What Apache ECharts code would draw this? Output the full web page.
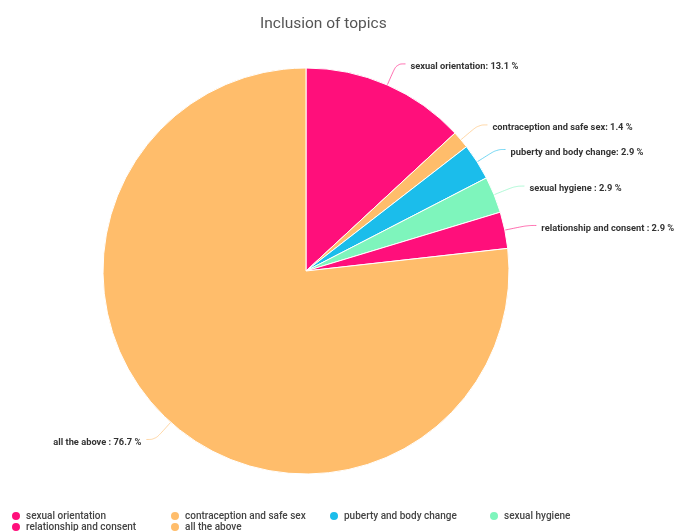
<!DOCTYPE html>
<html>
<head>
<meta charset="utf-8">
<script src="https://cdn.jsdelivr.net/npm/echarts@6/dist/echarts.min.js"></script>
<style>
  html, body { margin: 0; padding: 0; background: #fff; }
  #chart { width: 678px; height: 531px; }
</style>
</head>
<body>
<div id="chart"></div>
<script>
// Topic names as they appear in the survey (some carry a trailing space)
var categories = [
  'sexual orientation',
  'contraception and safe sex',
  'puberty and body change',
  'sexual hygiene ',
  'relationship and consent ',
  'all the above '
];
// Share of respondents, in percent
var shares = [13.1, 1.4, 2.9, 2.9, 2.9, 76.7];
var sliceColors = ['#ff0f7b', '#ffbd6b', '#1bbdeb', '#7ef5bc', '#ff0f7b', '#ffbd6b'];

// Legend grid: four columns, entries fill rows left to right
var legendColumnLeft = [10, 169, 328, 488];
var legendRowTop = [510, 521];

var chart = echarts.init(document.getElementById('chart'));

var pieData = categories.map(function (name, i) {
  return {
    name: name,
    value: shares[i],
    itemStyle: { color: sliceColors[i] },
    labelLine: { lineStyle: { color: sliceColors[i] } }
  };
});

// One legend component per entry so every entry sits in its own grid cell
var legends = categories.map(function (name, i) {
  return {
    orient: 'horizontal',
    left: legendColumnLeft[i % 4],
    top: legendRowTop[Math.floor(i / 4)],
    itemWidth: 10,
    itemHeight: 10,
    itemGap: 0,
    padding: 0,
    icon: 'circle',
    selectedMode: false,
    data: [name],
    textStyle: {
      fontFamily: 'Roboto',
      fontSize: 10,
      fontWeight: 500,
      color: '#444'
    }
  };
});

chart.setOption({
  animation: false,
  title: {
    text: 'Inclusion of topics',
    left: 255,
    top: 11,
    textStyle: {
      fontFamily: 'Roboto',
      fontSize: 15.5,
      fontWeight: 'normal',
      color: '#555'
    }
  },
  legend: legends,
  series: [{
    type: 'pie',
    center: [306, 271],
    radius: 203,
    startAngle: 90,
    clockwise: true,
    avoidLabelOverlap: true,
    itemStyle: { borderColor: '#fff', borderWidth: 1 },
    label: {
      formatter: function (p) {
        return p.name + ': ' + p.value.toFixed(1) + ' %';
      },
      fontFamily: 'Roboto',
      fontSize: 9.3,
      fontWeight: 'bold',
      color: '#333',
      overflow: 'none'
    },
    labelLine: {
      length: 23,
      length2: 9,
      smooth: 0.4,
      lineStyle: { width: 1, opacity: 0.6 }
    },
    // text sits a little below the end of its connector
    labelLayout: function () {
      return { dy: 3 };
    },
    data: pieData
  }]
});
</script>
</body>
</html>
